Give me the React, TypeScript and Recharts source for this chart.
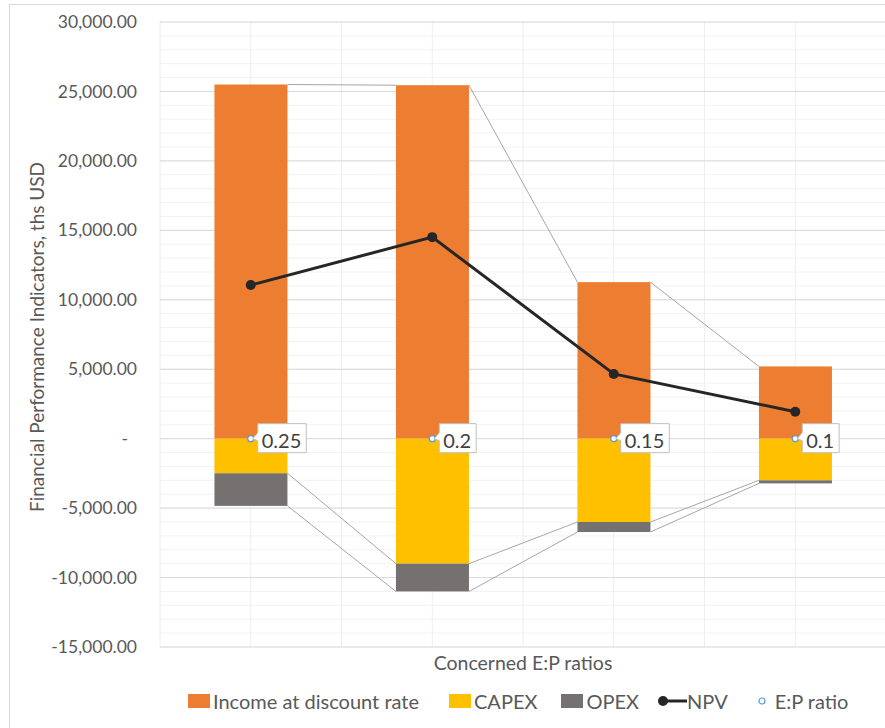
import * as React from 'react'
import * as R from 'recharts'

const { ComposedChart, Bar, Line, XAxis, YAxis, CartesianGrid } = R as any

// values (ths USD)
const ratios = ['0.25', '0.2', '0.15', '0.1']
const epRatio = [0.25, 0.2, 0.15, 0.1]
const income = [25500, 25450, 11270, 5200]
const capex = [-2490, -9000, -6000, -3000]
const opex = [-2350, -2000, -720, -220]
const npv = [11060, 14510, 4660, 1940]
const yTicks = [-15000, -10000, -5000, 0, 5000, 10000, 15000, 20000, 25000, 30000]
const Y_MIN = -15000
const Y_MAX = 30000
const MINOR_STEP = 1000

const COLORS = {
  income: '#ED7D31',
  capex: '#FFC000',
  opex: '#767171',
  npv: '#262626',
  ep: '#5B9BD5',
  link: '#A6A6A6',
  text: '#595959',
}

const FONT = "Lato, 'Noto Sans', sans-serif"
const CHART_W = 900
const CHART_H = 728
const MARGIN = { top: 22, right: 14, bottom: 81, left: 60 }
const Y_AXIS_W = 100
const PLOT_W = CHART_W - MARGIN.left - MARGIN.right - Y_AXIS_W

const chartData = ratios.map((r, i) => ({
  ratio: r,
  income: income[i],
  capex: capex[i],
  opex: opex[i],
  npv: npv[i],
  ep: epRatio[i],
}))

// value span of each stacked rectangle, used for the Excel-like series lines
const incomeSpans = income.map((v) => [0, v])
const capexSpans = capex.map((v) => [v, 0])
const opexSpans = opex.map((v, i) => [capex[i] + v, capex[i]])

const minorValues: number[] = []
for (let v = Y_MIN; v <= Y_MAX; v += MINOR_STEP) minorValues.push(v)

const usePlotAreaSafe: () => any = (R as any).usePlotArea || (() => undefined)

let measureCtx: CanvasRenderingContext2D | null = null
function textWidth(s: string, font: string) {
  if (!measureCtx) measureCtx = document.createElement('canvas').getContext('2d')
  if (!measureCtx) return s.length * 10
  measureCtx.font = font
  return measureCtx.measureText(s).width
}

function LinkedBar(props: any) {
  const { x, y, width, height, index, fill, spans, edge } = props
  const plot = usePlotAreaSafe()
  const step = (plot && plot.width ? plot.width : PLOT_W) / ratios.length
  const top = Math.min(y, y + height)
  const bottom = Math.max(y, y + height)
  const [lo, hi] = spans[index]
  const k = (bottom - top) / (hi - lo)
  const edgeVal = edge === 'top' ? hi : lo
  const edgePx = edge === 'top' ? top : bottom
  let link = null
  if (index < spans.length - 1) {
    const [nlo, nhi] = spans[index + 1]
    const nextVal = edge === 'top' ? nhi : nlo
    const nextPx = edgePx - (nextVal - edgeVal) * k
    link = (
      <line x1={x + width} y1={edgePx} x2={x + step} y2={nextPx} stroke={COLORS.link} strokeWidth={1} />
    )
  }
  return (
    <g>
      <rect x={x} y={top} width={width} height={bottom - top} fill={fill} />
      {link}
    </g>
  )
}

const fmt = (v: number) =>
  v.toLocaleString('en-US', { minimumFractionDigits: 2, maximumFractionDigits: 2 })

function YTick({ x, y, payload }: any) {
  const v = payload.value
  return (
    <text
      x={v === 0 ? x - 9 : x}
      y={y}
      dy="0.35em"
      textAnchor="end"
      fill={COLORS.text}
      fontSize={17.5}
      fontFamily={FONT}
    >
      {v === 0 ? '-' : fmt(v)}
    </text>
  )
}

function EpDot({ cx, cy }: any) {
  if (cx == null || cy == null) return null
  return <circle cx={cx} cy={cy} r={3} fill="#fff" stroke={COLORS.ep} strokeWidth={1.2} />
}

function EpLabel({ x, y, value }: any) {
  if (x == null || y == null) return null
  const text = String(value)
  const w = textWidth(text, `20px ${FONT}`) + 9
  const left = x + 7
  const top = y - 15
  const h = 29
  const d = `M${left},${top} H${left + w} V${top + h} H${left} V${y + 2} L${x + 2},${y} L${left},${y - 6} Z`
  return (
    <g>
      <path d={d} fill="#fff" stroke="#BFBFBF" strokeWidth={1} />
      <text x={left + 4} y={y + 9} fontSize={20} fill="#404040" fontFamily={FONT}>
        {text}
      </text>
    </g>
  )
}

function Legend() {
  const item = (key: React.ReactNode, label: string, gap: number, textGap = 3) => (
    <div style={{ display: 'flex', alignItems: 'center', marginRight: gap }}>
      {key}
      <span style={{ marginLeft: textGap }}>{label}</span>
    </div>
  )
  const sq = (c: string) => <span style={{ display: 'inline-block', width: 22, height: 14, background: c }} />
  return (
    <div
      style={{
        position: 'absolute',
        left: 188,
        top: 689,
        display: 'flex',
        alignItems: 'center',
        fontSize: 20,
        color: COLORS.text,
        whiteSpace: 'nowrap',
      }}
    >
      {item(sq(COLORS.income), 'Income at discount rate', 30)}
      {item(sq(COLORS.capex), 'CAPEX', 24)}
      {item(sq(COLORS.opex), 'OPEX', 18)}
      {item(
        <svg width={30} height={14}>
          <line x1={4} y1={7} x2={30} y2={7} stroke={COLORS.npv} strokeWidth={3} />
          <circle cx={6} cy={7} r={5} fill={COLORS.npv} />
        </svg>,
        'NPV',
        24,
        0
      )}
      {item(
        <svg width={20} height={14}>
          <circle cx={10} cy={7} r={3} fill="#fff" stroke={COLORS.ep} strokeWidth={1.2} />
        </svg>,
        'E:P ratio',
        0
      )}
    </div>
  )
}

export default function App() {
  return (
    <div
      style={{
        position: 'absolute',
        left: 0,
        top: 0,
        width: 885,
        height: 728,
        overflow: 'hidden',
        background: '#fff',
        fontFamily: FONT,
      }}
    >
      <div
        style={{
          position: 'absolute',
          left: 9,
          top: 4,
          width: 900,
          height: 760,
          border: '1px solid #D9D9D9',
        }}
      />
      <div style={{ position: 'absolute', left: 0, top: 0 }}>
        <ComposedChart
          width={CHART_W}
          height={CHART_H}
          data={chartData}
          margin={MARGIN}
          stackOffset="sign"
          barCategoryGap="30%"
        >
          <CartesianGrid vertical={false} horizontalValues={minorValues} stroke="#F2F2F2" />
          <CartesianGrid
            horizontal={false}
            stroke="#EEEEEE"
            verticalCoordinatesGenerator={({ offset }: any) => {
              const left = offset && offset.left != null ? offset.left : MARGIN.left + Y_AXIS_W
              const w = offset && offset.width ? offset.width : PLOT_W
              const n = ratios.length * 2
              return Array.from({ length: n + 1 }, (_, i) => left + (i * w) / n)
            }}
          />
          <CartesianGrid vertical={false} horizontalValues={yTicks} stroke="#D9D9D9" />
          <XAxis dataKey="ratio" hide />
          <YAxis
            width={Y_AXIS_W}
            domain={[Y_MIN, Y_MAX]}
            ticks={yTicks}
            interval={0}
            axisLine={false}
            tickLine={false}
            tickSize={0}
            tickMargin={23}
            tick={<YTick />}
          />
          <Bar
            dataKey="income"
            stackId="s"
            fill={COLORS.income}
            isAnimationActive={false}
            shape={(p: any) => <LinkedBar {...p} spans={incomeSpans} edge="top" />}
          />
          <Bar
            dataKey="capex"
            stackId="s"
            fill={COLORS.capex}
            isAnimationActive={false}
            shape={(p: any) => <LinkedBar {...p} spans={capexSpans} edge="bottom" />}
          />
          <Bar
            dataKey="opex"
            stackId="s"
            fill={COLORS.opex}
            isAnimationActive={false}
            shape={(p: any) => <LinkedBar {...p} spans={opexSpans} edge="bottom" />}
          />
          <Line
            dataKey="npv"
            stroke={COLORS.npv}
            strokeWidth={3}
            dot={{ r: 5, fill: COLORS.npv, stroke: COLORS.npv, strokeWidth: 0 }}
            activeDot={false}
            isAnimationActive={false}
          />
          <Line
            dataKey="ep"
            stroke="none"
            dot={<EpDot />}
            activeDot={false}
            label={<EpLabel />}
            isAnimationActive={false}
          />
        </ComposedChart>
      </div>
      <div
        style={{
          position: 'absolute',
          left: 36,
          top: 337,
          transform: 'translate(-50%, -50%) rotate(-90deg)',
          whiteSpace: 'nowrap',
          fontSize: 19,
          color: COLORS.text,
        }}
      >
        Financial Performance Indicators, ths USD
      </div>
      <div
        style={{
          position: 'absolute',
          left: 523,
          top: 662,
          transform: 'translate(-50%, -50%)',
          whiteSpace: 'nowrap',
          fontSize: 19.5,
          color: COLORS.text,
        }}
      >
        Concerned E:P ratios
      </div>
      <Legend />
    </div>
  )
}
